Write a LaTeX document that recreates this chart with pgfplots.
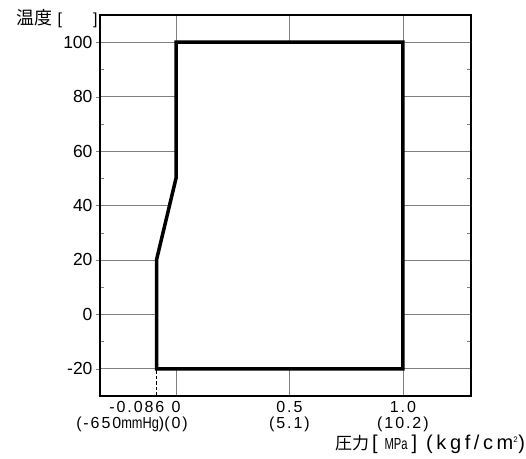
\documentclass[border=0pt]{standalone}
\usepackage{pgfplots}
\pgfplotsset{compat=1.18}
\usepackage{fontspec}
\setmainfont{Liberation Sans}
\newfontfamily\cjk{Noto Sans CJK JP}
\newfontfamily\spaced[LetterSpace=12]{Liberation Sans}
\newfontfamily\wide[LetterSpace=18]{Liberation Sans}
\begin{document}
\begin{tikzpicture}
\begin{axis}[name=ax, scale only axis, width=371pt, height=381pt,
  xmin=-0.335, xmax=1.30, ymin=-30, ymax=110,
  axis line style={line width=1.5pt},
  xtick={0,0.5,1},
  xticklabels={{0\\(0)},{0.5\\(5.1)},{1.0\\(10.2)}},
  xticklabel style={align=center, font=\fontsize{16}{16}\spaced, inner sep=1pt, yshift=-4.5pt},
  extra x ticks={-0.086},
  extra x tick labels={{-0.086\\(-650{\rmfamily\scalebox{0.8}[1]{mmHg}})}},
  extra x tick style={grid=none, major tick length=0pt,
    xticklabel style={anchor=north east, align=right, xshift=9pt}},
  ytick={-20,0,...,100},
  yticklabel style={font=\fontsize{17.5}{18}\selectfont},
  ytick pos=left, xtick pos=bottom,
  ytick align=outside, xtick align=inside,
  major tick length=4pt,
  grid=major, major grid style={gray, line width=0.8pt},
  /pgf/number format/assume math mode=true,
  ylabel={{\cjk\fontsize{18}{18}\selectfont 温度}\hspace{5pt}[\hspace{31pt}]},
  ylabel style={rotate=-90, at={(rel axis cs:-0.006,0.99)}, anchor=east, font=\fontsize{16}{16}\selectfont, inner sep=0pt},
  xlabel={{\cjk\fontsize{17}{17}\selectfont 圧力}\hspace{3pt}[\hspace{7pt}\scalebox{0.7}[1]{\fontsize{16}{16}\selectfont MPa}\hspace{4pt}]\hspace{9pt}{\wide (kgf/cm\textsuperscript{\fontsize{8}{8}\selectfont 2})}},
  xlabel style={at={(rel axis cs:1.146,-0.128)}, anchor=east, font=\fontsize{20}{20}\selectfont, inner sep=0pt},
]
\addplot[line width=3.5pt, fill=white, line join=miter] coordinates {
  (-0.086,-20) (-0.086,20) (0,50) (0,100) (1,100) (1,-20)
} -- cycle;
\addplot[line width=1.5pt, dash pattern=on 3.5pt off 2pt] coordinates {(-0.086,-30) (-0.086,-20)};
\end{axis}
\begin{axis}[scale only axis, width=371pt, height=381pt,
  xmin=-0.335, xmax=1.30, ymin=-30, ymax=110,
  axis line style={line width=1.5pt},
  xtick=\empty, ytick={-10,10,30,50,70,90}, yticklabels={},
  tick align=inside, ytick pos=both, major tick length=4pt,
]
\end{axis}
\pgfresetboundingbox
\path[use as bounding box] ([shift={(-100pt,-63pt)}]ax.south west) rectangle ([shift={(55pt,15pt)}]ax.north east);
\end{tikzpicture}
\end{document}
